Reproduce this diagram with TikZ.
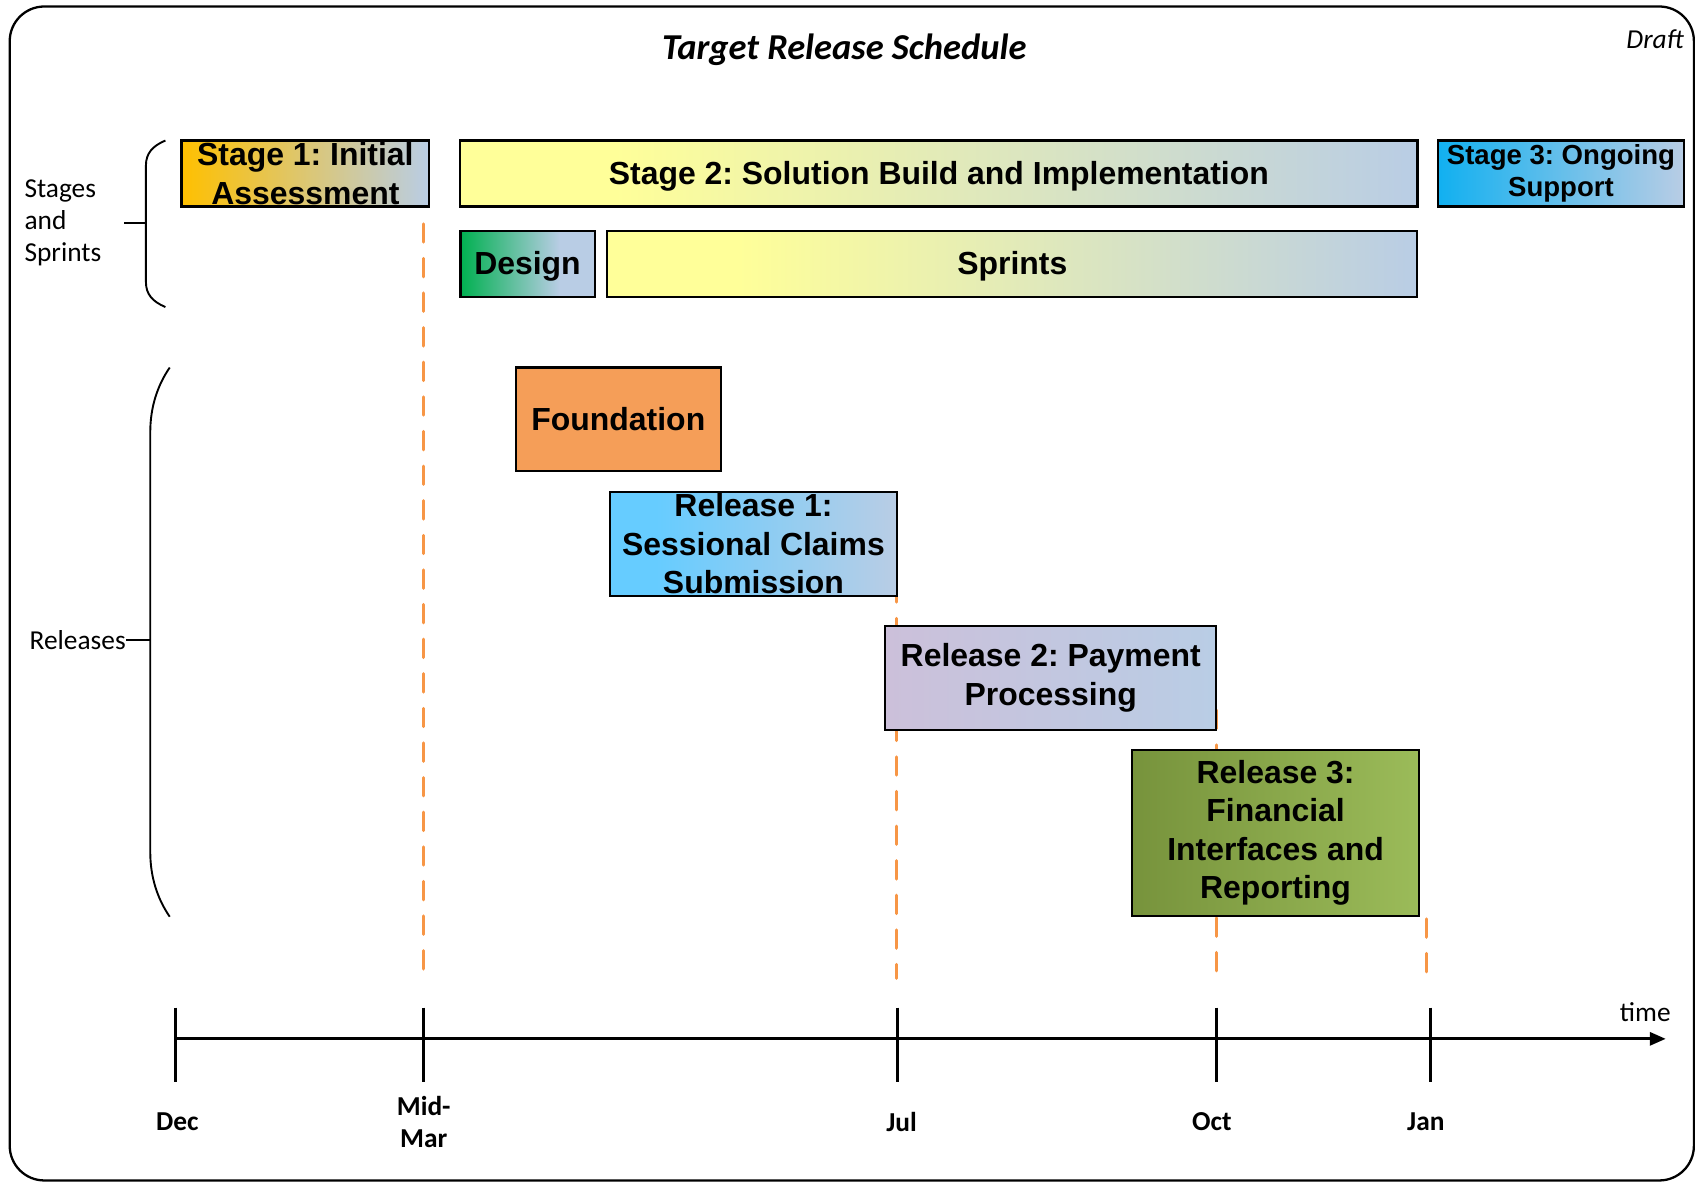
\documentclass[tikz,border=0pt]{standalone}
\usepackage{fontspec}
\setmainfont{Carlito}
\newfontfamily\arialfont{Liberation Sans}
\usetikzlibrary{arrows.meta}
\frenchspacing

% palette
\definecolor{steel}{RGB}{185,205,229}
\definecolor{amber}{RGB}{255,192,0}
\definecolor{paleyellow}{RGB}{255,255,153}
\definecolor{skyblue}{RGB}{17,176,240}
\definecolor{leafgreen}{RGB}{0,176,80}
\definecolor{foundorange}{RGB}{245,158,88}
\definecolor{lightcyan}{RGB}{102,204,255}
\definecolor{lavender}{RGB}{204,192,218}
\definecolor{olivedark}{RGB}{119,147,60}
\definecolor{olivelight}{RGB}{155,187,89}
\definecolor{dashorange}{RGB}{247,150,70}

% horizontal fades (the 25bp..75bp band spans the box)
\pgfdeclarehorizontalshading{yellowfade}{100bp}{color(0bp)=(paleyellow); color(25bp)=(paleyellow); color(33bp)=(paleyellow); color(75bp)=(steel); color(100bp)=(steel)}
\pgfdeclarehorizontalshading{greenfade}{100bp}{color(0bp)=(leafgreen); color(25bp)=(leafgreen); color(62bp)=(steel); color(100bp)=(steel)}
\pgfdeclarehorizontalshading{cyanfade}{100bp}{color(0bp)=(lightcyan); color(25bp)=(lightcyan); color(33bp)=(lightcyan); color(75bp)=(steel); color(100bp)=(steel)}

\tikzset{
  bar/.style={draw=black, line width=0.55pt, inner sep=0pt, align=center,
    font=\arialfont\bfseries\fontsize{8.4}{10.1}\selectfont},
  smallbar/.style={bar, font=\arialfont\bfseries\fontsize{7.25}{8.5}\selectfont},
  milestone/.style={dashorange, line width=0.8pt, dash pattern=on 0.17cm off 0.15cm, line cap=round},
  tick/.style={line width=0.85pt},
  sidelabel/.style={inner sep=0pt, font=\fontsize{7.2}{8.5}\selectfont},
  datelabel/.style={inner sep=0pt, align=center, font=\bfseries\fontsize{7.2}{8.5}\selectfont},
  brace/.style={line width=0.5pt},
}

\begin{document}
\begin{tikzpicture}[x=0.01cm, y=-0.01cm]
\useasboundingbox (0,0) rectangle (1568,1093);

% outer frame
\draw[line width=0.6pt, rounded corners=0.32cm] (9,6) rectangle (1567,1092);

% headings
\node[font=\bfseries\itshape\fontsize{9.6}{11}\selectfont] (title) at (781,46) {Target Release Schedule};
\node[font=\itshape\fontsize{7.2}{8.5}\selectfont] (draft) at (1531,36) {Draft};

% milestone guides
\coordinate (mm-top) at (392,207);  \coordinate (mm-bot) at (392,905);
\coordinate (jul-top) at (829,540); \coordinate (jul-bot) at (829,905);
\coordinate (oct-top) at (1125,657); \coordinate (oct-bot) at (1125,905);
\coordinate (jan-top) at (1320,850); \coordinate (jan-bot) at (1320,905);
\draw[milestone] (mm-top) -- (mm-bot);
\draw[milestone] (jul-top) -- (jul-bot);
\draw[milestone] (oct-top) -- (oct-bot);
\draw[milestone] (jan-top) -- (jan-bot);

% stages and sprints
\node[bar, left color=amber, right color=steel, minimum width=2.29cm, minimum height=0.61cm] (stage1) at (282.5,160.5) {Stage 1: Initial\\Assessment};
\node[bar, shading=yellowfade, minimum width=8.85cm, minimum height=0.61cm, text depth=0.5pt] (stage2) at (868.5,160.5) {Stage 2: Solution Build and Implementation};
\node[smallbar, left color=skyblue, right color=steel, minimum width=2.28cm, minimum height=0.61cm] (stage3) at (1444,160.5) {Stage 3: Ongoing\\Support};
\node[bar, shading=greenfade, minimum width=1.24cm, minimum height=0.61cm, text depth=0.5pt] (design) at (488,244.5) {Design};
\node[bar, shading=yellowfade, minimum width=7.49cm, minimum height=0.61cm, text depth=0.5pt] (sprints) at (936.5,244.5) {Sprints};

% releases
\node[bar, fill=foundorange, minimum width=1.90cm, minimum height=0.96cm] (found) at (572,388) {Foundation};
\node[bar, shading=cyanfade, minimum width=2.66cm, minimum height=0.96cm] (rel1) at (697,503) {Release 1:\\Sessional Claims\\Submission};
\node[bar, left color=lavender, right color=steel, minimum width=3.06cm, minimum height=0.96cm] (rel2) at (972,627) {Release 2: Payment\\Processing};
\node[bar, left color=olivedark, right color=olivelight, minimum width=2.66cm, minimum height=1.53cm] (rel3) at (1180,770.5) {Release 3:\\Financial\\Interfaces and\\Reporting};

% group braces
\draw[brace] (153,130) .. controls (141,135) and (135,142) .. (135,153) -- (135,261) .. controls (135,272) and (141,279) .. (153,284);
\coordinate (sb-tip) at (135,206);
\node[sidelabel, align=left, anchor=west] (stageslbl) at (22,206) {Stages\\and\\Sprints};
\coordinate (sb-tick) at (115,206);
\draw[brace] (sb-tick) -- (sb-tip);

\draw[brace] (157,340) .. controls (146,356) and (139,376) .. (139,400) -- (139,788) .. controls (139,812) and (146,832) .. (157,848);
\coordinate (rb-tip) at (139,592);
\node[sidelabel, anchor=east] (rellbl) at (117,592) {Releases};
\draw[brace] (rellbl.east) -- (rb-tip);

% time axis
\coordinate (ax-start) at (162,961);
\coordinate (ax-end) at (1541,961);
\draw[line width=0.85pt, -{Triangle[length=4.2pt, width=3.4pt]}] (ax-start) -- (ax-end);
\node[sidelabel] (timelbl) at (1522,936) {time};

\foreach \nm/\xx in {dec/162, mar/392, jul/830, oct/1125, jan/1323}{
  \coordinate (\nm-a) at (\xx,932);
  \coordinate (\nm-b) at (\xx,1001);
  \draw[tick] (\nm-a) -- (\nm-b);
}

\node[datelabel] (declbl) at (164,1038) {Dec};
\node[datelabel] (marlbl) at (392,1038) {Mid-\\Mar};
\node[datelabel] (jullbl) at (834,1038) {Jul};
\node[datelabel] (octlbl) at (1121,1038) {Oct};
\node[datelabel] (janlbl) at (1319,1038) {Jan};
\end{tikzpicture}
\end{document}
